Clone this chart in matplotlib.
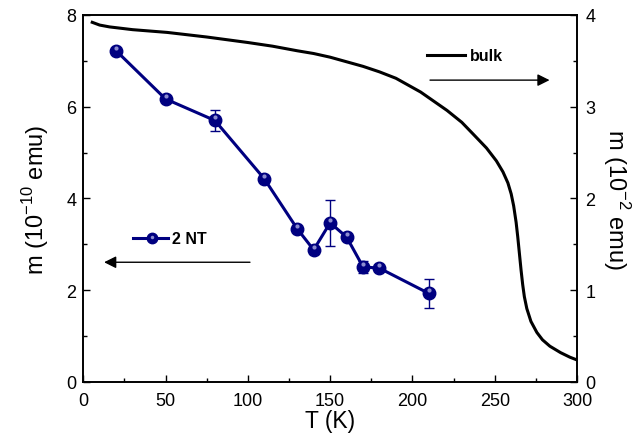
import matplotlib.pyplot as plt

plt.rcParams['font.family'] = ['Liberation Sans', 'DejaVu Sans']
plt.rcParams['mathtext.fontset'] = 'custom'
plt.rcParams['mathtext.rm'] = 'Liberation Sans'

# 2 NT sample (left axis, 1e-10 emu)
T_nt = [20, 50, 80, 110, 130, 140, 150, 160, 170, 180, 210]
m_nt = [7.22, 6.17, 5.70, 4.43, 3.34, 2.88, 3.47, 3.16, 2.51, 2.48, 1.93]
err_nt = [0, 0, 0.22, 0, 0, 0.08, 0.50, 0, 0.13, 0, 0.32]

# bulk (right axis, 1e-2 emu)
T_bulk = [5.5, 10, 16, 30, 51, 75, 100, 115, 130, 140, 150, 160, 170, 180, 190,
          205, 221, 230, 237, 245, 251, 255, 258, 260, 261.5, 263, 264, 265, 266,
          267, 268, 269.5, 272, 275.6, 279, 283.5, 290, 295.7, 300]
m_bulk = [3.92, 3.89, 3.87, 3.84, 3.81, 3.76, 3.70, 3.66, 3.61, 3.58, 3.54, 3.49,
          3.44, 3.38, 3.31, 3.16, 2.96, 2.83, 2.70, 2.55, 2.41, 2.29, 2.17, 2.05,
          1.92, 1.74, 1.58, 1.40, 1.22, 1.06, 0.93, 0.80, 0.66, 0.54, 0.46, 0.39,
          0.32, 0.27, 0.24]

fig = plt.figure(figsize=(6.4, 4.39), dpi=100)
ax = fig.add_axes([0.13, 0.1276, 0.7716, 0.836])
ax2 = ax.twinx()

navy = '#000080'
ax.errorbar(T_nt, m_nt, yerr=err_nt, color=navy, lw=2.2, marker='o', ms=9,
            mfc=navy, mec=navy, ecolor=navy, elinewidth=1, capsize=3.5, capthick=1,
            zorder=3)
# highlight on the spheres
ax.plot(T_nt, [v + 0.07 for v in m_nt], ls='none', marker='o', ms=3,
        mfc='#8c8cd0', mec='none', zorder=4)

ax2.plot(T_bulk, m_bulk, color='black', lw=2.2)

ax.set_xlim(0, 300)
ax.set_ylim(0, 8)
ax2.set_ylim(0, 4)

ax.set_xticks(range(0, 301, 50))
ax.set_xticks(range(25, 300, 50), minor=True)
ax.set_yticks(range(0, 9, 2))
ax.set_yticks(range(1, 8, 2), minor=True)
ax2.set_yticks(range(0, 5))
ax2.set_yticks([0.5, 1.5, 2.5, 3.5], minor=True)

ax.tick_params(axis='both', which='both', direction='in', labelsize=13, width=1)
ax.tick_params(which='major', length=5)
ax.tick_params(which='minor', length=3)
ax2.tick_params(axis='y', which='both', direction='in', labelsize=13, width=1)
ax2.tick_params(which='major', length=5)
ax2.tick_params(which='minor', length=3)
ax.tick_params(axis='x', pad=7)
ax.tick_params(axis='y', pad=5)
ax2.tick_params(axis='y', pad=6)

for a in (ax, ax2):
    for s in a.spines.values():
        s.set_linewidth(1.2)

ax.set_xlabel('T (K)', fontsize=16.5, labelpad=0)
ax.set_ylabel('m (10$^{-10}$ emu)', fontsize=17, labelpad=11)
ax2.set_ylabel('m (10$^{-2}$ emu)', fontsize=17, rotation=270, labelpad=26)

# legend-like labels with arrows
ax.plot([30, 51.5], [3.13, 3.13], color=navy, lw=2.2)
ax.plot([42], [3.13], marker='o', ms=7.5, color=navy)
ax.plot([42], [3.17], marker='o', ms=2.5, mfc='#8c8cd0', mec='none')
ax.text(54, 3.13, '2 NT', fontsize=11.5, fontweight='bold', va='center')
ax.annotate('', xy=(11, 2.61), xytext=(103, 2.61),
            arrowprops=dict(arrowstyle='-|>', color='black', lw=1,
                            mutation_scale=18))

ax.plot([209, 232], [7.12, 7.12], color='black', lw=2.2)
ax.text(235, 7.12, 'bulk', fontsize=11.5, fontweight='bold', va='center')
ax.annotate('', xy=(285, 6.58), xytext=(209, 6.58),
            arrowprops=dict(arrowstyle='-|>', color='black', lw=1,
                            mutation_scale=18))

fig.savefig('out.png', dpi=100)
